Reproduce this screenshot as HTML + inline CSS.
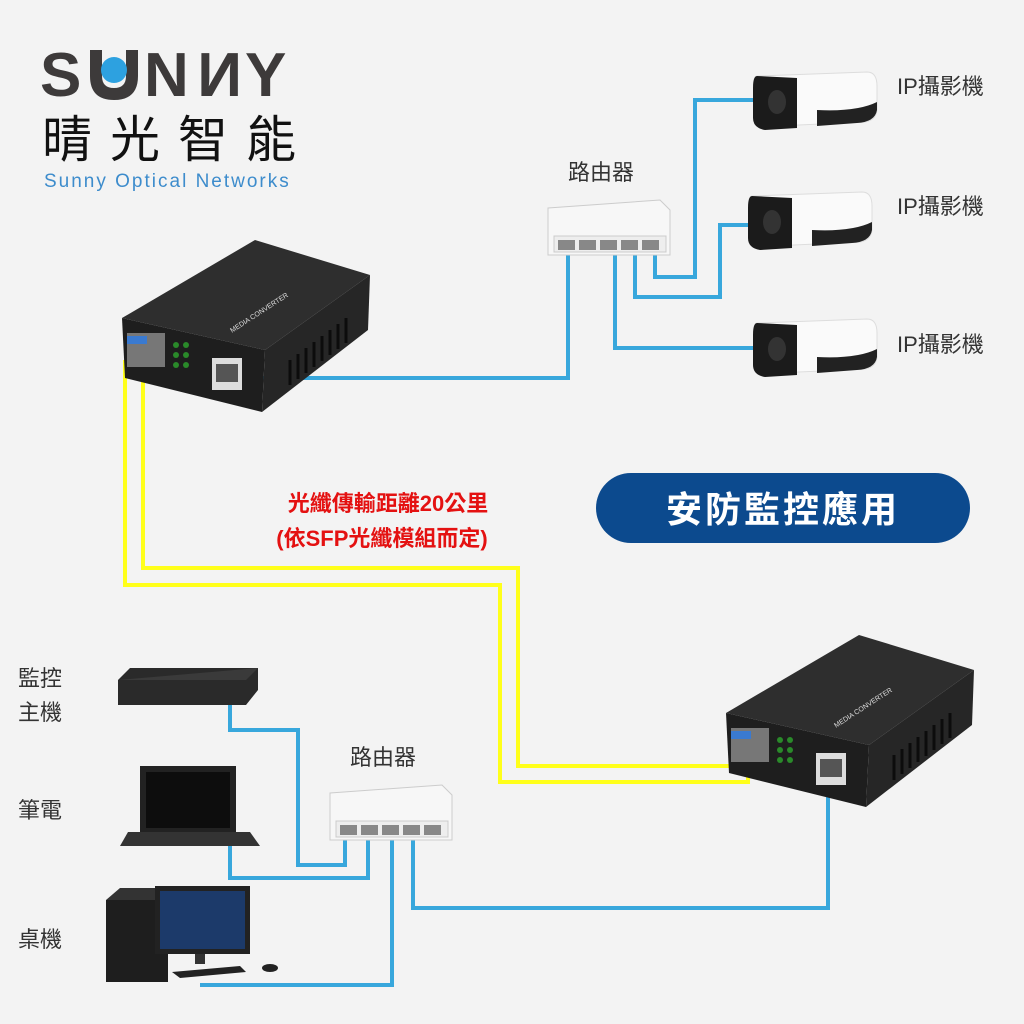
<!DOCTYPE html>
<html><head><meta charset="utf-8"><style>
html,body{margin:0;padding:0;background:#f3f3f3}
svg{display:block}
text{font-family:"Liberation Sans","Noto Sans CJK TC",sans-serif}
</style></head><body>
<svg width="1024" height="1024" viewBox="0 0 1024 1024" xmlns="http://www.w3.org/2000/svg">
<rect width="1024" height="1024" fill="#f3f3f3"/>
<defs>
<g id="conv">
 <polygon points="122,318 255,240 370,275 265,350" fill="#2e2e2e"/>
 <polygon points="122,318 265,350 262,412 125,378" fill="#1e1e1e"/>
 <polygon points="265,350 370,275 368,330 262,412" fill="#262626"/>
 <g stroke="#0c0c0c" stroke-width="3">
  <line x1="290" y1="360" x2="290" y2="385"/><line x1="298" y1="354" x2="298" y2="379"/><line x1="306" y1="348" x2="306" y2="373"/><line x1="314" y1="342" x2="314" y2="367"/><line x1="322" y1="336" x2="322" y2="361"/><line x1="330" y1="330" x2="330" y2="355"/><line x1="338" y1="324" x2="338" y2="349"/><line x1="346" y1="318" x2="346" y2="343"/>
 </g>
 <text x="232" y="333" fill="#ddd" font-size="7" transform="rotate(-33 232 333)">MEDIA CONVERTER</text>
 <rect x="127" y="333" width="38" height="34" fill="#777"/>
 <rect x="127" y="336" width="20" height="8" fill="#3a7ad0"/>
 <circle cx="176" cy="345" r="3" fill="#2a8a2a"/><circle cx="186" cy="345" r="3" fill="#2a8a2a"/>
 <circle cx="176" cy="355" r="3" fill="#2a8a2a"/><circle cx="186" cy="355" r="3" fill="#2a8a2a"/>
 <circle cx="176" cy="365" r="3" fill="#2a8a2a"/><circle cx="186" cy="365" r="3" fill="#2a8a2a"/>
 <rect x="212" y="358" width="30" height="32" fill="#ddd"/>
 <rect x="216" y="364" width="22" height="18" fill="#555"/>
</g>
<g id="cam">
 <path d="M0,8 L110,4 Q120,4 120,18 L120,40 Q120,52 108,54 L20,58 Z" fill="#fafafa" stroke="#ddd"/>
 <path d="M60,42 Q100,44 120,34 L120,42 Q118,54 100,55 L60,58 Z" fill="#222"/>
 <path d="M0,8 Q-4,8 -4,20 L-4,50 Q-4,60 8,62 L40,60 L40,10 Z" fill="#1b1b1b"/>
 <ellipse cx="20" cy="34" rx="9" ry="12" fill="#333"/>
</g>
<g id="router">
 <polygon points="0,8 112,0 122,10 122,55 0,55" fill="#f7f7f7" stroke="#ccc"/>
 <rect x="6" y="36" width="112" height="16" fill="#eee" stroke="#ccc"/>
 <g fill="#888"><rect x="10" y="40" width="17" height="10"/><rect x="31" y="40" width="17" height="10"/><rect x="52" y="40" width="17" height="10"/><rect x="73" y="40" width="17" height="10"/><rect x="94" y="40" width="17" height="10"/></g>
</g>
</defs>

<!-- logo -->
<text x="40" y="96" font-size="62" font-weight="bold" fill="#3d3a3a" letter-spacing="2">S</text>
<path d="M90,50 L90,76 Q90,100 114,100 Q138,100 138,76 L138,50 L126,50 L126,76 Q126,88 114,88 Q102,88 102,76 L102,50 Z" fill="#3d3a3a"/>
<circle cx="114" cy="70" r="13" fill="#2da1e0"/>
<text x="144" y="96" font-size="62" font-weight="bold" fill="#3d3a3a">N</text>
<g transform="translate(438,0) scale(-1,1)"><text x="196" y="96" font-size="62" font-weight="bold" fill="#3d3a3a">N</text></g>
<text x="245" y="96" font-size="62" font-weight="bold" fill="#3d3a3a">Y</text>
<text x="42" y="157" font-size="50" fill="#111" letter-spacing="18">晴光智能</text>
<text x="44" y="187" font-size="19" fill="#3d8ccc" letter-spacing="2">Sunny Optical Networks</text>

<!-- fiber -->
<g fill="none" stroke="#ffff1a" stroke-width="4">
<polyline points="125,360 125,585 500,585 500,782 748,782 748,758"/>
<polyline points="143,360 143,568 518,568 518,766 735,766 735,758"/>
</g>
<!-- ethernet -->
<g fill="none" stroke="#38a7dc" stroke-width="4">
<polyline points="235,378 568,378 568,250"/>
<polyline points="615,250 615,348 762,348"/>
<polyline points="635,250 635,297 720,297 720,225 758,225"/>
<polyline points="655,250 655,277 695,277 695,100 762,100"/>
<polyline points="828,775 828,908 413,908 413,840"/>
<polyline points="230,705 230,730 298,730 298,865 345,865 345,835"/>
<polyline points="230,840 230,878 368,878 368,835"/>
<polyline points="200,985 392,985 392,835"/>
</g>

<use href="#conv"/>
<use href="#conv" transform="translate(604,395)"/>

<use href="#router" transform="translate(548,200)"/>
<use href="#router" transform="translate(330,785)"/>

<use href="#cam" transform="translate(757,68)"/>
<use href="#cam" transform="translate(752,188)"/>
<use href="#cam" transform="translate(757,315)"/>

<g font-size="22" fill="#333">
<text x="897" y="94">IP攝影機</text>
<text x="897" y="214">IP攝影機</text>
<text x="897" y="352">IP攝影機</text>
<text x="568" y="180">路由器</text>
<text x="350" y="765">路由器</text>
<text x="18" y="686">監控</text>
<text x="18" y="720">主機</text>
<text x="18" y="818">筆電</text>
<text x="18" y="947">桌機</text>
</g>

<text x="388" y="511" font-size="22" font-weight="bold" fill="#e41111" text-anchor="middle">光纖傳輸距離20公里</text>
<text x="382" y="546" font-size="22" font-weight="bold" fill="#e41111" text-anchor="middle">(依SFP光纖模組而定)</text>

<rect x="596" y="473" width="374" height="70" rx="35" fill="#0c4a8e"/>
<text x="783" y="522" font-size="36" font-weight="bold" fill="#fff" text-anchor="middle" letter-spacing="3">安防監控應用</text>

<!-- DVR -->
<polygon points="118,680 130,668 258,668 258,690 246,705 118,705" fill="#2a2a2a"/>
<polygon points="118,680 246,680 258,668" fill="#3a3a3a"/>
<!-- laptop -->
<rect x="140" y="766" width="96" height="66" fill="#222"/>
<rect x="146" y="772" width="84" height="56" fill="#0d0d0d"/>
<polygon points="128,832 250,832 260,846 120,846" fill="#333"/>
<!-- desktop -->
<rect x="106" y="900" width="62" height="82" fill="#1e1e1e"/>
<polygon points="106,900 120,888 182,888 168,900" fill="#333"/>
<rect x="155" y="886" width="95" height="68" fill="#222"/>
<rect x="160" y="891" width="85" height="58" fill="#1c3a6a"/>
<rect x="195" y="954" width="10" height="10" fill="#333"/>
<polygon points="172,972 240,966 246,972 180,978" fill="#222"/>
<ellipse cx="270" cy="968" rx="8" ry="4" fill="#222"/>
</svg>
</body></html>
